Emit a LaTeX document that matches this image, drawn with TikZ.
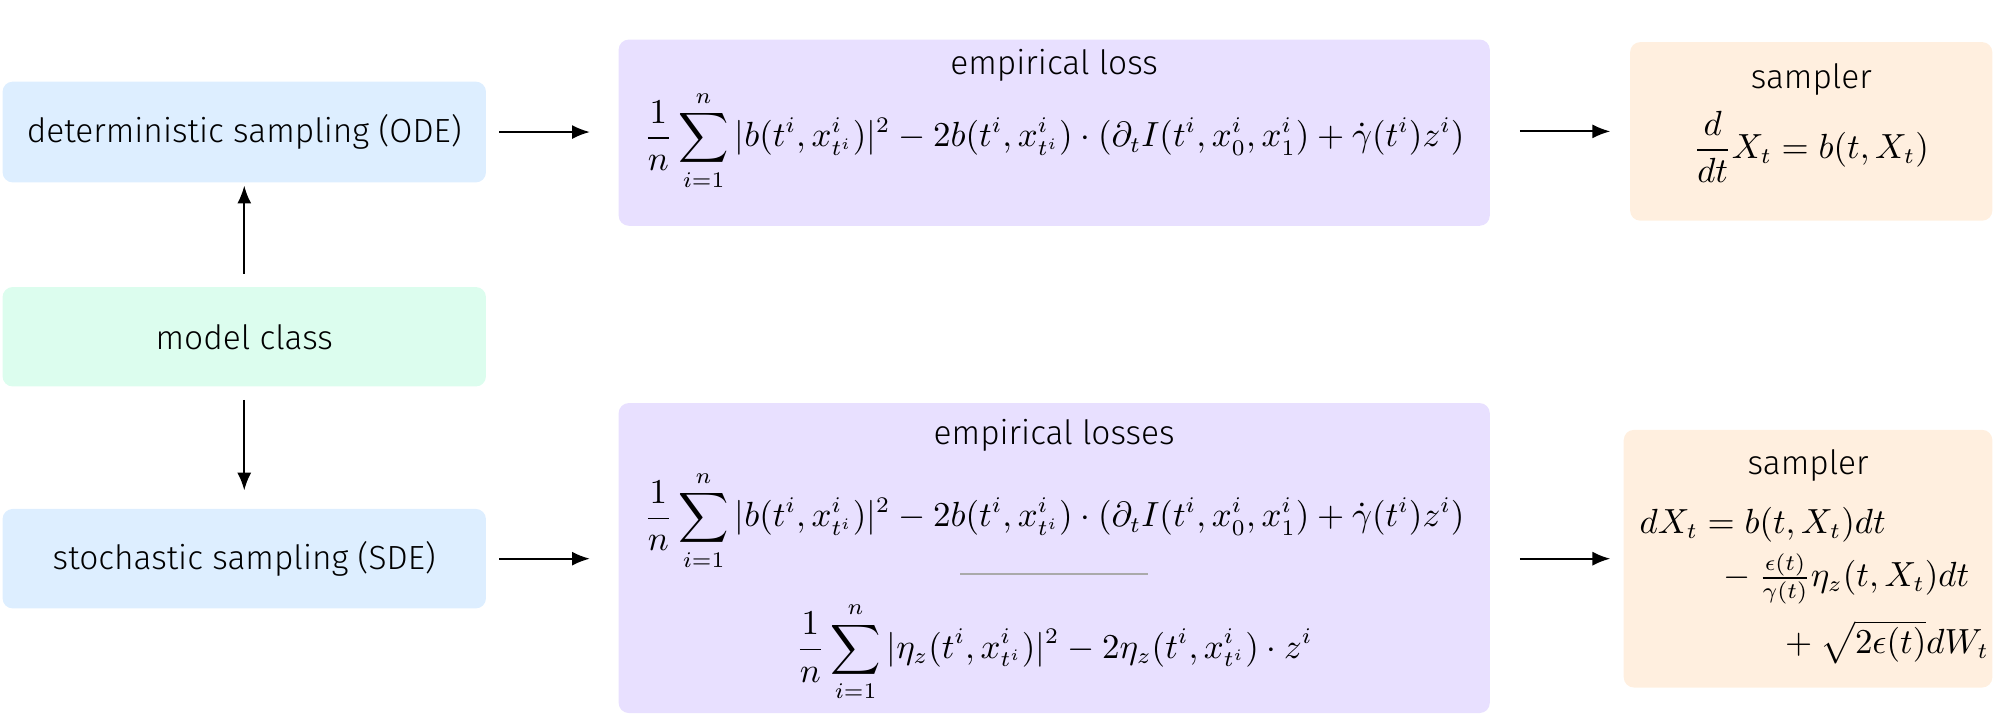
\documentclass[tikz,border=0pt]{standalone}
\usepackage[no-math]{fontspec}
\setmainfont{Fira Sans}[UprightFont=* Light]
\usepackage{amsmath}
\usetikzlibrary{arrows.meta}
\definecolor{bxblue}{HTML}{DDEEFF}
\definecolor{bxgreen}{HTML}{DCFDEE}
\definecolor{bxpurple}{HTML}{E8E0FF}
\definecolor{bxorange}{HTML}{FFEFDF}
\definecolor{sepgray}{HTML}{AAAAAA}
\begin{document}
\begin{tikzpicture}[x=0.4pt,y=-0.4pt,
  box/.style={draw=none,rounded corners=3.2pt,inner sep=0pt},
  conn/.style={line width=0.64pt,-{Latex[length=5.6pt,width=4.4pt]}},
  lbl/.style={inner sep=0pt,font=\fontsize{10.5}{12.6}\selectfont}]
\useasboundingbox (0,0) rectangle (1568,569);
% left column
\node[box,fill=bxblue,minimum width=151.6pt,minimum height=31.6pt] (ode) at (191.5,103.5) {};
\node[box,fill=bxgreen,minimum width=151.6pt,minimum height=31.2pt] (mc) at (191.5,264) {};
\node[box,fill=bxblue,minimum width=151.6pt,minimum height=31.2pt] (sde) at (191.5,438) {};
\node[lbl] (odet) at (ode.center) {deterministic sampling (ODE)};
\node[lbl] (mct) at (mc.center) {model class};
\node[lbl] (sdet) at (sde.center) {stochastic sampling (SDE)};
% loss boxes
\node[box,fill=bxpurple,minimum width=273.2pt,minimum height=58.4pt] (loss) at (826.5,104) {};
\node[box,fill=bxpurple,minimum width=273.2pt,minimum height=97.2pt] (losses) at (826.5,437.5) {};
\node[lbl] (losst) at (826.5,51) {empirical loss};
\node[lbl] (lossf) at (826.5,110) {$\displaystyle \frac{1}{n}\sum_{i=1}^{n}|b(t^i,x^i_{t^i})|^2-2b(t^i,x^i_{t^i})\cdot(\partial_t I(t^i,x^i_0,x^i_1)+\dot\gamma(t^i)z^i)$};
\node[lbl] (lossest) at (826.5,341) {empirical losses};
\node[lbl] (lossesfa) at (826.5,408) {$\displaystyle \frac{1}{n}\sum_{i=1}^{n}|b(t^i,x^i_{t^i})|^2-2b(t^i,x^i_{t^i})\cdot(\partial_t I(t^i,x^i_0,x^i_1)+\dot\gamma(t^i)z^i)$};
\node[lbl] (lossesfb) at (826.5,511) {$\displaystyle \frac{1}{n}\sum_{i=1}^{n}|\eta_z(t^i,x^i_{t^i})|^2-2\eta_z(t^i,x^i_{t^i})\cdot z^i$};
\coordinate (sepl) at (753,450);
\coordinate (sepr) at (900,450);
\draw[sepgray,line width=0.8pt] (sepl) -- (sepr);
% samplers
\node[box,fill=bxorange,minimum width=113.6pt,minimum height=56pt] (samp) at (1420,103) {};
\node[box,fill=bxorange,minimum width=115.6pt,minimum height=80.8pt] (samps) at (1417.5,438) {};
\node[lbl] (sampt) at (1420,62) {sampler};
\node[lbl] (sampf) at (1420,115) {$\displaystyle \frac{d}{dt}X_t=b(t,X_t)$};
\node[lbl] (sampst) at (1417.5,365) {sampler};
\node[lbl,anchor=base west] (sampsa) at (1285,418) {$dX_t=b(t,X_t)dt$};
\node[lbl,anchor=base west] (sampsb) at (1345,460) {${}-\frac{\epsilon(t)}{\gamma(t)}\eta_z(t,X_t)dt$};
\node[lbl,anchor=base west] (sampsc) at (1393,512) {${}+\sqrt{2\epsilon(t)}dW_t$};
% connectors
\draw[conn] ([yshift=4pt]mc.north) -- ([yshift=-0.8pt]ode.south);
\draw[conn] ([yshift=-4pt]mc.south) -- ([yshift=5.6pt]sde.north);
\draw[conn] ([xshift=4pt]ode.east) -- ([xshift=-8.8pt]loss.west |- ode.east);
\draw[conn] ([xshift=4pt]sde.east) -- ([xshift=-8.8pt]losses.west |- sde.east);
\draw[conn] ([xshift=9.2pt]loss.east |- samp.west) -- ([xshift=-6pt]samp.west);
\draw[conn] ([xshift=9.2pt]losses.east |- samps.west) -- ([xshift=-4pt]samps.west);
\end{tikzpicture}
\end{document}
